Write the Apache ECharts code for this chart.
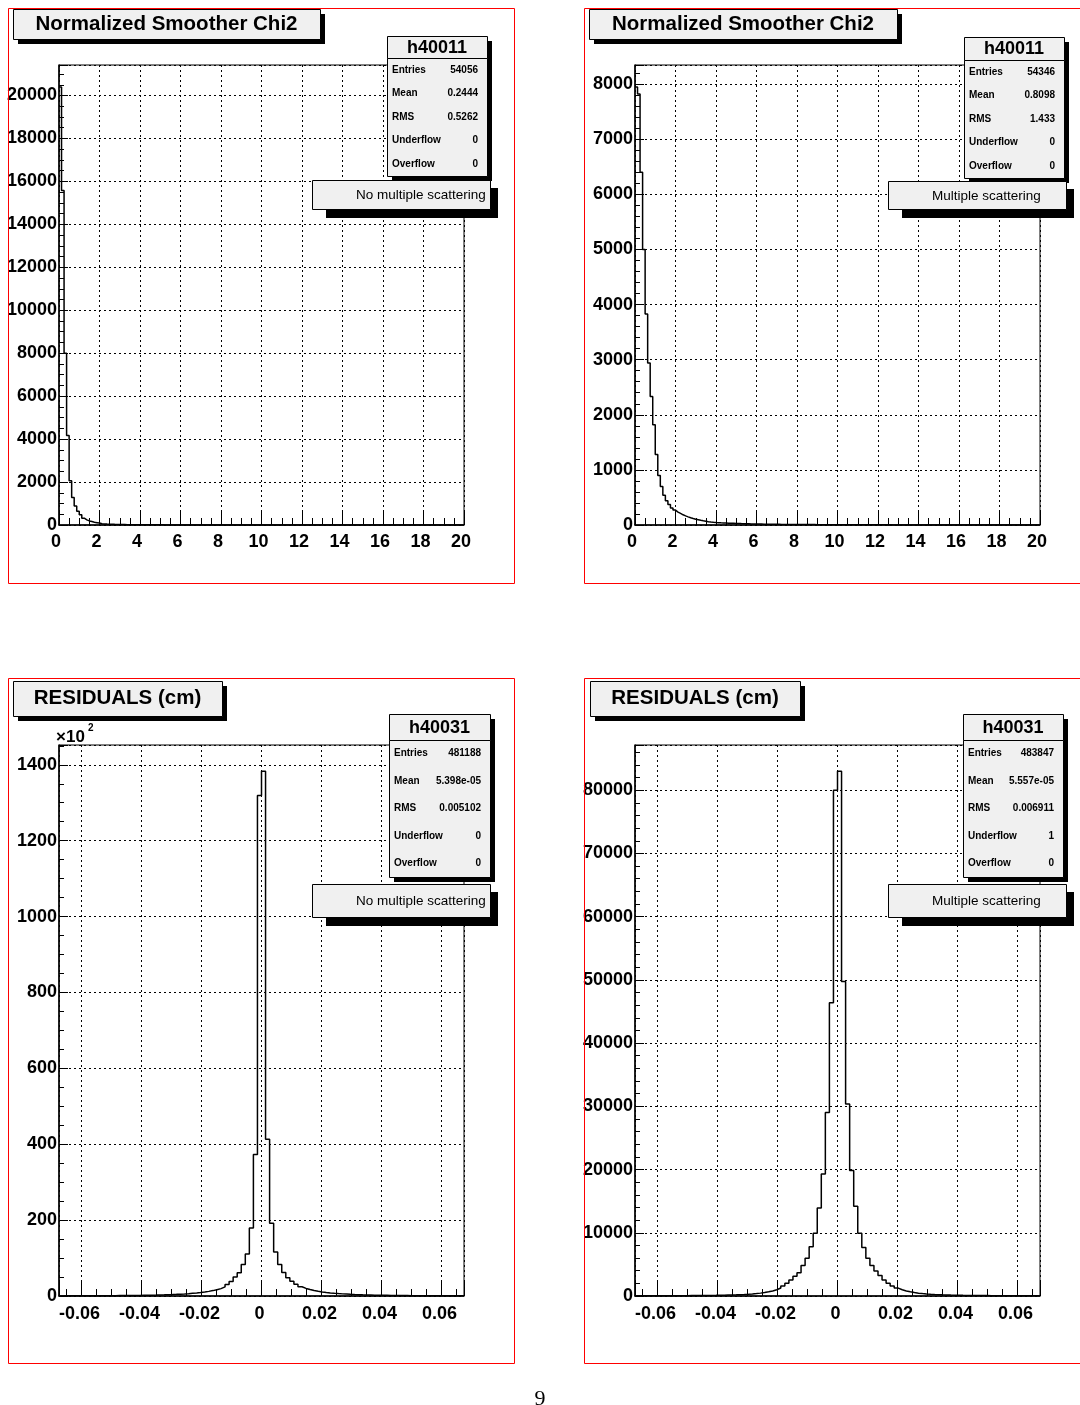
<!DOCTYPE html>
<html>
<head>
<meta charset="utf-8">
<script src="https://cdn.jsdelivr.net/npm/echarts@6.0.0/dist/echarts.min.js"></script>
<style>
  html, body { margin: 0; padding: 0; background: #ffffff; }
  #chart { width: 1080px; height: 1405px; }
</style>
</head>
<body>
<div id="chart"></div>
<script>
// ---- Binning definitions ----
const CHI2_MIN = 0, CHI2_BIN = 0.125;          // 160 bins over [0, 20]
const RES_MIN = -0.0675, RES_BIN = 0.00135;    // 100 bins over [-0.0675, 0.0675]

// ---- Normalized smoother chi2, no multiple scattering (h40011) ----
const chi2NoMS = [
  20400, 15580, 8000, 4170, 2060, 1280, 880, 640, 480, 320, 240, 190, 160, 130, 110, 90,
  60, 50, 44, 39, 34, 30, 27, 24, 21, 19, 17, 15, 14, 12, 11, 10,
  9, 9, 8, 8, 7, 7, 6, 6, 6, 5, 5, 5, 4, 4, 4, 4,
  3, 3, 3, 3, 3, 3, 2, 2, 2, 2, 2, 2, 2, 2, 2, 2,
  2, 1, 1, 1, 2, 1, 1, 1, 1, 1, 1, 1, 1, 0, 1, 1,
  1, 0, 1, 1, 0, 1, 0, 1, 0, 1, 0, 0, 1, 0, 1, 0,
  0, 1, 0, 0, 1, 0, 0, 0, 1, 0, 0, 1, 0, 0, 0, 0,
  1, 0, 0, 0, 0, 1, 0, 0, 0, 0, 0, 1, 0, 0, 0, 0,
  0, 0, 1, 0, 0, 0, 0, 0, 0, 0, 1, 0, 0, 0, 0, 0,
  0, 0, 0, 0, 1, 0, 0, 0, 0, 0, 0, 0, 0, 0, 1, 0
];

// ---- Normalized smoother chi2, multiple scattering (h40011) ----
const chi2MS = [
  7950, 7820, 6400, 5000, 3830, 2940, 2330, 1820, 1280, 900, 700, 540, 440, 370, 310, 270,
  235, 210, 185, 165, 148, 132, 118, 105, 95, 85, 76, 68, 61, 55, 50, 46,
  43, 40, 38, 36, 34, 32, 30, 28, 27, 25, 24, 22, 21, 20, 19, 18,
  17, 16, 15, 15, 14, 13, 13, 12, 12, 11, 11, 10, 10, 9, 9, 9,
  8, 8, 8, 7, 7, 7, 7, 6, 6, 6, 6, 6, 5, 5, 5, 5,
  5, 5, 4, 4, 4, 4, 4, 4, 4, 3, 3, 3, 3, 3, 3, 3,
  3, 3, 3, 2, 3, 2, 2, 2, 2, 2, 2, 2, 2, 2, 2, 2,
  2, 1, 2, 1, 2, 1, 1, 1, 2, 1, 1, 1, 1, 1, 1, 1,
  1, 1, 1, 0, 1, 1, 1, 1, 0, 1, 1, 0, 1, 1, 0, 1,
  1, 0, 1, 0, 1, 1, 0, 1, 0, 0, 1, 0, 1, 0, 0, 1
];

// ---- Residuals (cm), no multiple scattering (h40031) ----
const resNoMS = [
  31, 34, 37, 40, 43, 47, 51, 55, 60, 65,
  71, 77, 84, 91, 99, 109, 120, 133, 147, 162,
  178, 198, 220, 245, 275, 305, 345, 385, 430, 490,
  550, 620, 710, 800, 920, 1060, 1220, 1420, 1650, 1950,
  2400, 3000, 3800, 5000, 6100, 8300, 11100, 17900, 37260, 131900,
  138300, 41300, 19150, 11600, 8300, 6200, 4800, 3870, 3100, 2450,
  2000, 1700, 1450, 1250, 1080, 940, 820, 720, 630, 560,
  500, 440, 390, 350, 310, 280, 250, 225, 200, 180,
  165, 150, 135, 120, 110, 100, 92, 85, 78, 72,
  66, 60, 56, 52, 48, 44, 41, 38, 35, 33
];

// ---- Residuals (cm), multiple scattering (h40031) ----
const resMS = [
  23, 25, 27, 29, 31, 33, 35, 38, 41, 44,
  48, 52, 56, 61, 66, 72, 79, 86, 94, 104,
  115, 128, 143, 161, 182, 207, 238, 278, 325, 385,
  455, 545, 660, 800, 990, 1260, 1600, 2000, 2550, 3120,
  3690, 4820, 5960, 7770, 9930, 13900, 19290, 29040, 46400, 80000,
  83000, 49750, 30350, 19850, 14180, 9930, 7660, 5960, 4820, 3970,
  3230, 2550, 2000, 1600, 1250, 980, 800, 660, 540, 450,
  380, 320, 275, 235, 205, 180, 160, 142, 127, 114,
  103, 93, 85, 78, 71, 65, 60, 55, 51, 47,
  43, 40, 37, 34, 32, 30, 28, 26, 24, 22
];

// ---- Statistics box contents ----
const statLabels = ['Entries', 'Mean', 'RMS', 'Underflow', 'Overflow'];
const statsChi2NoMS = ['54056', '0.2444', '0.5262', '0', '0'];
const statsChi2MS = ['54346', '0.8098', '1.433', '0', '0'];
const statsResNoMS = ['481188', '5.398e-05', '0.005102', '0', '0'];
const statsResMS = ['483847', '5.557e-05', '0.006911', '1', '0'];

// ---- Axis tick labels ----
const chi2XTicks = [0, 2, 4, 6, 8, 10, 12, 14, 16, 18, 20];

// Step outline of a histogram: one point per bin low edge, closed at the last high edge.
function histPoints(lo, width, values) {
  const pts = values.map((v, i) => [lo + i * width, v]);
  pts.push([lo + values.length * width, values[values.length - 1]]);
  return pts;
}

const SANS = 'Liberation Sans, Arial, Helvetica, sans-serif';
const labelStyle = { color: '#000', fontFamily: SANS, fontWeight: 'bold', fontSize: 18 };
const gridDots = { show: true, lineStyle: { color: '#000', width: 1, type: [2, 3] } };

function xAxisChi2(gi) {
  return {
    type: 'value', gridIndex: gi, min: chi2XTicks[0], max: chi2XTicks[chi2XTicks.length - 1],
    interval: chi2XTicks[1] - chi2XTicks[0],
    axisLine: { show: true, onZero: false, lineStyle: { color: '#000', width: 1.5 } },
    axisTick: { show: true, inside: true, length: 14, lineStyle: { color: '#000', width: 1 } },
    minorTick: { show: true, splitNumber: 4, length: 7, lineStyle: { color: '#000', width: 1 } },
    splitLine: gridDots,
    axisLabel: Object.assign({ margin: 8, padding: [0, 6, 0, 0], formatter: v => String(v) }, labelStyle)
  };
}

function xAxisRes(gi) {
  return {
    type: 'value', gridIndex: gi, min: RES_MIN, max: -RES_MIN, splitNumber: 7,
    axisLine: { show: true, onZero: false, lineStyle: { color: '#000', width: 1.5 } },
    axisTick: { show: true, inside: true, length: 14, lineStyle: { color: '#000', width: 1 } },
    minorTick: { show: true, splitNumber: 4, length: 7, lineStyle: { color: '#000', width: 1 } },
    splitLine: gridDots,
    axisLabel: Object.assign({
      margin: 9, padding: [0, 4, 0, 0], showMinLabel: false, showMaxLabel: false,
      formatter: v => String(+(+v).toFixed(2))
    }, labelStyle)
  };
}

function yAxis(gi, values, interval, minorSplit, fmt) {
  return {
    type: 'value', gridIndex: gi, min: 0, max: 1.05 * Math.max(...values), interval: interval,
    axisLine: { show: true, onZero: false, lineStyle: { color: '#000', width: 1.5 } },
    axisTick: { show: true, inside: true, length: 9, lineStyle: { color: '#000', width: 1 } },
    minorTick: { show: true, splitNumber: minorSplit, length: 5, lineStyle: { color: '#000', width: 1 } },
    splitLine: gridDots,
    axisLabel: Object.assign({ margin: 2, showMaxLabel: false, formatter: fmt || (v => String(v)) }, labelStyle)
  };
}

function histSeries(gi, lo, width, values) {
  return {
    type: 'line', xAxisIndex: gi, yAxisIndex: gi, step: 'end',
    data: histPoints(lo, width, values), showSymbol: false, symbol: 'none',
    lineStyle: { color: '#000', width: 1.5 }, clip: true, silent: true, z: 5
  };
}

// ---- Pave decorations (titles, stats boxes, legends) ----
const graphics = [];
const PAVE = '#f0f0f0';
function box(x, y, w, h, fill, stroke, z) {
  graphics.push({ type: 'rect', silent: true, z: z, shape: { x: x, y: y, width: w, height: h },
    style: { fill: fill, stroke: stroke || null, lineWidth: stroke ? 1 : 0 } });
}
function label(x, y, str, font, align, z) {
  graphics.push({ type: 'text', silent: true, z: z || 102, x: x, y: y,
    style: { text: str, font: font, fill: '#000', textAlign: align || 'left', textVerticalAlign: 'middle' } });
}

// Red pad outlines
box(8.5, 8.5, 506, 575, 'none', '#ff0000', 1);
box(584.5, 8.5, 506, 575, 'none', '#ff0000', 1);
box(8.5, 678.5, 506, 685, 'none', '#ff0000', 1);
box(584.5, 678.5, 506, 685, 'none', '#ff0000', 1);

function title(x, y, w, h, str) {
  box(x + 5, y + 5, w, h, '#000', null, 100);
  box(x + 0.5, y + 0.5, w, h, PAVE, '#000', 101);
  label(x + w / 2, y + h / 2, str, 'bold 20.5px ' + SANS, 'center');
}
function stats(x, y, w, headH, rowH, name, values) {
  const bodyH = rowH * statLabels.length;
  box(x + 5, y + 5, w, headH + bodyH, '#000', null, 100);
  box(x + 0.5, y + 0.5, w, headH, PAVE, '#000', 101);
  box(x + 0.5, y + headH + 0.5, w, bodyH, PAVE, '#000', 101);
  label(x + w / 2, y + headH / 2 + 1, name, 'bold 18px ' + SANS, 'center');
  statLabels.forEach((s, i) => {
    const cy = y + headH + rowH * (i + 0.5);
    label(x + 5, cy, s, 'bold 10px ' + SANS, 'left');
    label(x + w - 9, cy, values[i], 'bold 10px ' + SANS, 'right');
  });
}
function legendBox(x, y, w, h, str) {
  box(x + 14, y + 8, w - 6, h + 1, '#000', null, 100);
  box(x + 0.5, y + 0.5, w, h, PAVE, '#000', 101);
  label(x + 44, y + h / 2 + 1, str, '13.5px ' + SANS, 'left');
}

title(13, 9, 307, 30, 'Normalized Smoother Chi2');
title(589, 9, 308, 30, 'Normalized Smoother Chi2');
title(13, 681, 209, 35, 'RESIDUALS (cm)');
title(590, 681, 210, 35, 'RESIDUALS (cm)');

stats(387, 36, 100, 22, 23.6, 'h40011', statsChi2NoMS);
stats(964, 37, 100, 23, 23.6, 'h40011', statsChi2MS);
stats(389, 714, 101, 26, 27.4, 'h40031', statsResNoMS);
stats(963, 714, 100, 26, 27.4, 'h40031', statsResMS);

legendBox(312, 180, 178, 29, 'No multiple scattering');
legendBox(888, 181, 178, 28, 'Multiple scattering');
legendBox(312, 884, 178, 33, 'No multiple scattering');
legendBox(888, 884, 178, 33, 'Multiple scattering');

// Exponent for the scaled y axis of the lower-left pad
label(56, 737, '\u00d710', 'bold 17px ' + SANS, 'left', 3);
label(88, 728, '2', 'bold 10px ' + SANS, 'left', 3);

// Page number
label(540, 1399, '9', '22px Liberation Serif, DejaVu Serif, serif', 'center', 3);

const frame = { show: true, borderColor: '#000', borderWidth: 1, backgroundColor: 'transparent', containLabel: false, outerBoundsMode: 'none' };

const option = {
  animation: false,
  backgroundColor: '#ffffff',
  grid: [
    Object.assign({ left: 59, top: 65, width: 405, height: 460 }, frame),
    Object.assign({ left: 635, top: 65, width: 405, height: 460 }, frame),
    Object.assign({ left: 59, top: 745, width: 405, height: 551 }, frame),
    Object.assign({ left: 635, top: 745, width: 405, height: 551 }, frame)
  ],
  xAxis: [xAxisChi2(0), xAxisChi2(1), xAxisRes(2), xAxisRes(3)],
  yAxis: [
    yAxis(0, chi2NoMS, 2000, 4),
    yAxis(1, chi2MS, 1000, 5),
    yAxis(2, resNoMS, 20000, 4, v => String(Math.round(v / 100))),
    yAxis(3, resMS, 10000, 5)
  ],
  series: [
    histSeries(0, CHI2_MIN, CHI2_BIN, chi2NoMS),
    histSeries(1, CHI2_MIN, CHI2_BIN, chi2MS),
    histSeries(2, RES_MIN, RES_BIN, resNoMS),
    histSeries(3, RES_MIN, RES_BIN, resMS)
  ],
  graphic: { elements: graphics }
};

const chart = echarts.init(document.getElementById('chart'), null, { renderer: 'canvas' });
chart.setOption(option);
</script>
</body>
</html>
